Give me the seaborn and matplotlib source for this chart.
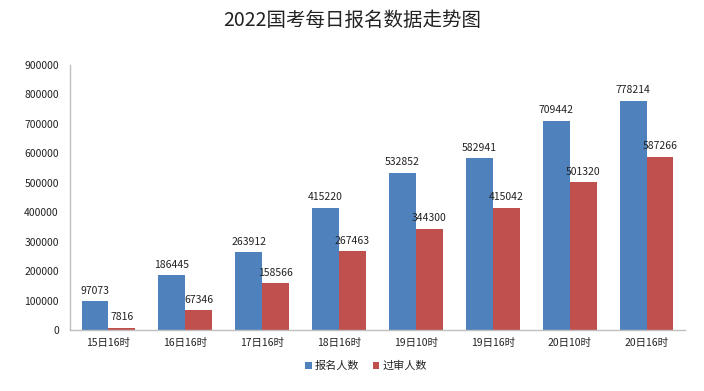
import matplotlib
matplotlib.use("Agg")
import matplotlib.pyplot as plt
import seaborn as sns
import pandas as pd

categories = ["15日16时", "16日16时", "17日16时", "18日16时", "19日10时", "19日16时", "20日10时", "20日16时"]
signup = [97073, 186445, 263912, 415220, 532852, 582941, 709442, 778214]
approved = [7816, 67346, 158566, 267463, 344300, 415042, 501320, 587266]
series_names = ["报名人数", "过审人数"]
yticks = list(range(0, 900001, 100000))

sns.set_theme(style="white")
plt.rcParams['font.family'] = ['Noto Sans CJK SC', 'DejaVu Sans']

df = pd.DataFrame({
    "cat": categories * 2,
    "val": signup + approved,
    "series": [series_names[0]] * len(categories) + [series_names[1]] * len(categories),
})

fig = plt.figure(figsize=(7.04, 3.91), dpi=100)
ax = fig.add_axes([0.0994, 0.156, 0.8736, 0.678])
sns.barplot(data=df, x="cat", y="val", hue="series", order=categories,
            hue_order=series_names, palette=["#4F81BD", "#C0504D"],
            width=0.7, saturation=1, ax=ax, legend=True, linewidth=0,
            edgecolor="none")

for cont in ax.containers:
    ax.bar_label(cont, labels=[f"{int(v)}" for v in cont.datavalues],
                 fontsize=7.5, padding=4, color="#222222")

ax.set_ylim(0, 900000)
ax.set_yticks(yticks)
ax.set_yticklabels([str(t) for t in yticks], fontsize=7.5, color="#222222")
ax.tick_params(axis='x', labelsize=7.5, colors="#222222", length=0, pad=6)
ax.tick_params(axis='y', length=0, pad=8)
ax.set_xlim(-0.5, len(categories) - 0.5)
ax.set_xlabel("")
ax.set_ylabel("")
for s in ["top", "right"]:
    ax.spines[s].set_visible(False)
for s in ["left", "bottom"]:
    ax.spines[s].set_color("#BFBFBF")
    ax.spines[s].set_linewidth(1)

handles, labels = ax.get_legend_handles_labels()
ax.legend_.remove()
fig.legend(handles, labels, loc="center", bbox_to_anchor=(0.52, 0.064), ncol=2,
           frameon=False, fontsize=8, handlelength=0.6, handleheight=0.6,
           handletextpad=0.3, columnspacing=1.2)

fig.suptitle("2022国考每日报名数据走势图", y=0.975, fontsize=14, color="#222222")
fig.savefig("out.png", dpi=100)
